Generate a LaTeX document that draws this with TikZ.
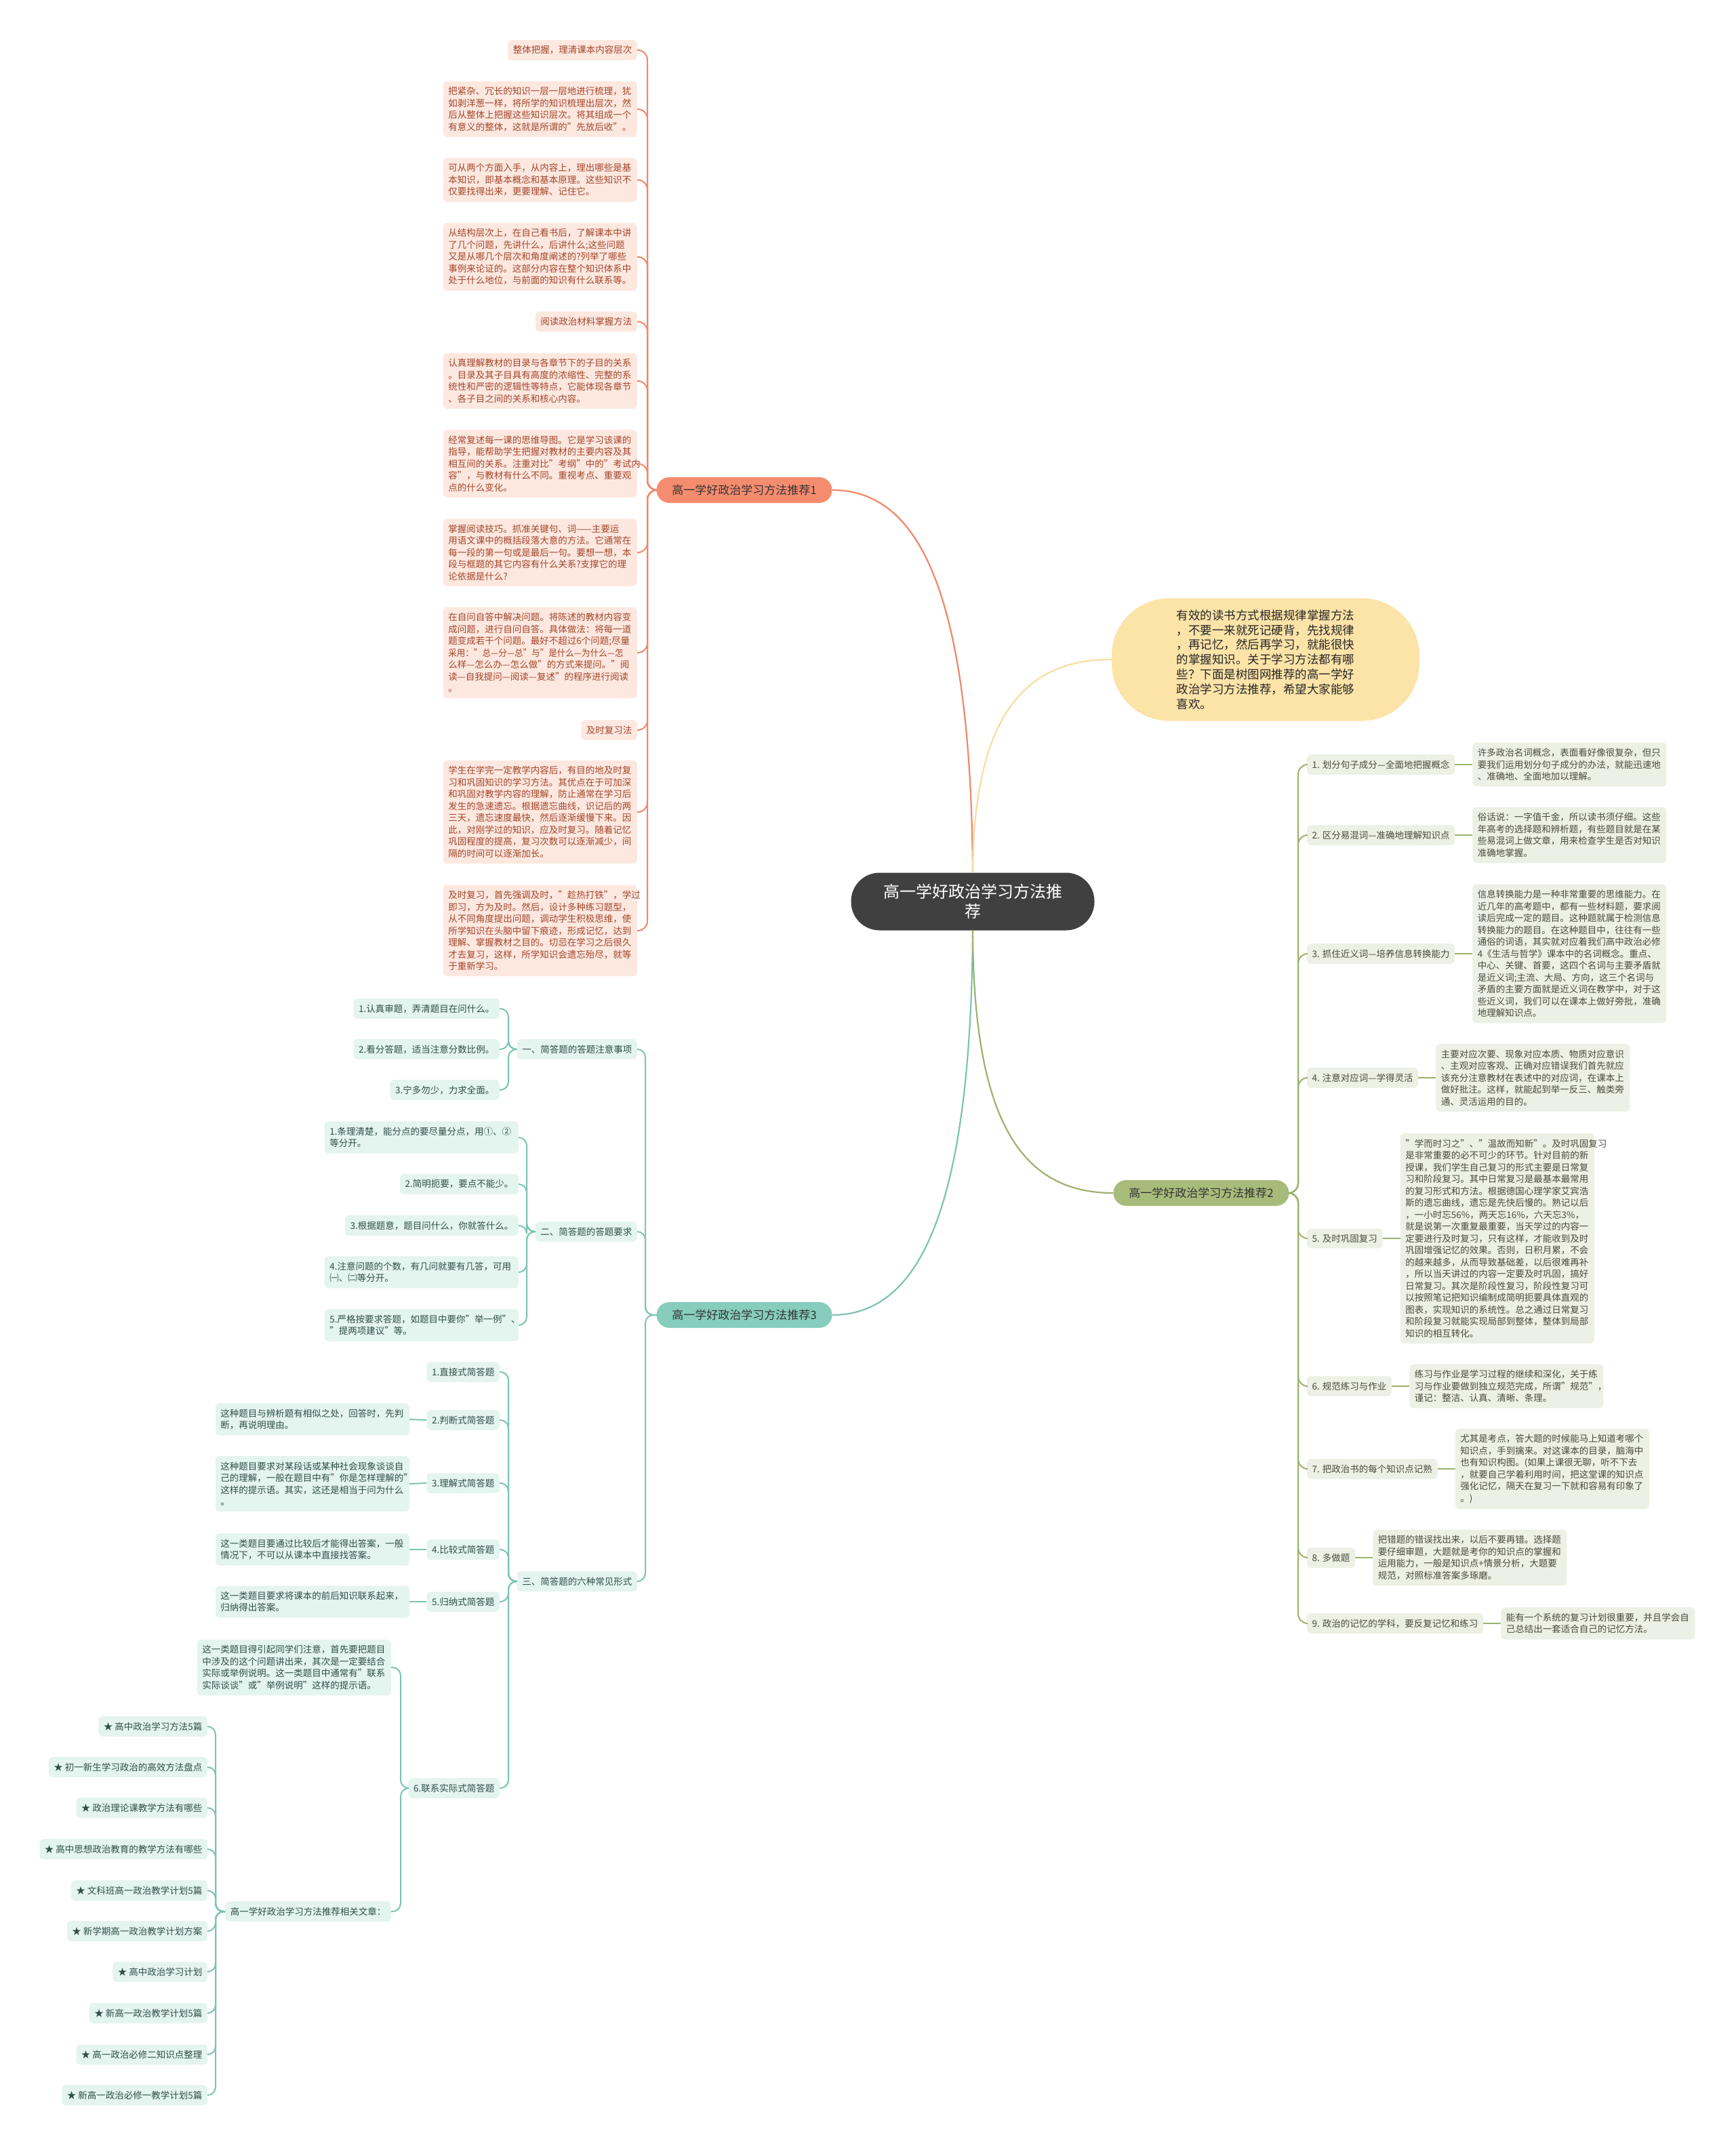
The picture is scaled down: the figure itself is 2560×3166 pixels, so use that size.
\documentclass[tikz,border=0pt]{standalone}
\usepackage{fontspec}
\setmainfont{Noto Sans CJK SC}
\usetikzlibrary{calc}
\definecolor{rootc}{HTML}{404040}
\definecolor{oA}{HTML}{F0876A}
\definecolor{oFill}{HTML}{F68C6E}
\definecolor{oBox}{HTML}{FDE8E0}
\definecolor{oText}{HTML}{A3452A}
\definecolor{tA}{HTML}{7CC3B3}
\definecolor{tFill}{HTML}{86CDBD}
\definecolor{tBox}{HTML}{E4F4EF}
\definecolor{tText}{HTML}{2F4F47}
\definecolor{gA}{HTML}{9CB26C}
\definecolor{gFill}{HTML}{A7BC7B}
\definecolor{gBox}{HTML}{EDF0E4}
\definecolor{gText}{HTML}{4A4A3C}
\definecolor{yA}{HTML}{F6DEA2}
\definecolor{yFill}{HTML}{FCE3A8}
\tikzset{
  base/.style={rounded corners=6pt, inner xsep=7.5pt, inner ysep=8.5pt,
    font=\fontsize{13.5}{17.5}\selectfont, align=left},
  obox/.style={base, fill=oBox, text=oText},
  tbox/.style={base, fill=tBox, text=tText},
  gbox/.style={base, fill=gBox, text=gText},
  para/.style={text width=271pt},
  bnode/.style={rounded corners=19pt, minimum width=259, minimum height=38,
    font=\fontsize{17}{20}\selectfont, text=black!80},
  oline/.style={draw=oA, line width=2pt, rounded corners=14pt},
  tline/.style={draw=tA, line width=2pt, rounded corners=12pt},
  gline/.style={draw=gA, line width=2pt, rounded corners=14pt},
}
\begin{document}
\begin{tikzpicture}[x=1pt,y=-1pt]
\useasboundingbox (0,0) rectangle (2560,3166);
\fill[white] (0,0) rectangle (2560,3166);

% root
\node[fill=rootc, rounded corners=42pt, minimum width=359, minimum height=85,
  align=center, text=white, font=\fontsize{24}{29}\selectfont] (root) at (1435,1330)
  {高一学好政治学习方法推\\荐};

% intro
\node[fill=yFill, rounded corners=85pt, minimum width=454, minimum height=181,
  align=left, text=black!85, font=\fontsize{17.5}{21.8}\selectfont] (intro) at (1867,973)
  {有效的读书方式根据规律掌握方法\\，不要一来就死记硬背，先找规律\\，再记忆，然后再学习，就能很快\\的掌握知识。关于学习方法都有哪\\些？下面是树图网推荐的高一学好\\政治学习方法推荐，希望大家能够\\喜欢。};

% branch nodes
\node[bnode, fill=oFill] (b1) at (1098,723) {高一学好政治学习方法推荐1};
\node[bnode, fill=gFill] (b2) at (1772,1760) {高一学好政治学习方法推荐2};
\node[bnode, fill=tFill] (b3) at (1098,1940) {高一学好政治学习方法推荐3};

\draw[draw=oA, line width=2.2pt] (root.north) .. controls (1432,860) and (1350,723) .. (b1.east);
\draw[draw=yA, line width=2.2pt] (root.north) .. controls (1436,1060) and (1510,972) .. (intro.west);
\draw[draw=tA, line width=2.2pt] (root.south) .. controls (1432,1800) and (1350,1940) .. (b3.east);
\draw[draw=gA, line width=2.2pt] (root.south) .. controls (1436,1660) and (1510,1760) .. (b2.west);

% ---------- branch 1 ----------
\coordinate (t1) at (955,723);
\node[obox, anchor=east] (c11) at (940,74) {整体把握，理清课本内容层次};
\node[obox, para, anchor=east] (c12) at (940,161) {把紧杂、冗长的知识一层一层地进行梳理，犹\\如剥洋葱一样，将所学的知识梳理出层次，然\\后从整体上把握这些知识层次。将其组成一个\\有意义的整体，这就是所谓的"先放后收"。};
\node[obox, para, anchor=east] (c13) at (940,265.5) {可从两个方面入手，从内容上，理出哪些是基\\本知识，即基本概念和基本原理。这些知识不\\仅要找得出来，更要理解、记住它。};
\node[obox, para, anchor=east] (c14) at (940,379) {从结构层次上，在自己看书后，了解课本中讲\\了几个问题，先讲什么，后讲什么;这些问题\\又是从哪几个层次和角度阐述的?列举了哪些\\事例来论证的。这部分内容在整个知识体系中\\处于什么地位，与前面的知识有什么联系等。};
\node[obox, anchor=east] (c15) at (940,474.5) {阅读政治材料掌握方法};
\node[obox, para, anchor=east] (c16) at (940,562) {认真理解教材的目录与各章节下的子目的关系\\。目录及其子目具有高度的浓缩性、完整的系\\统性和严密的逻辑性等特点，它能体现各章节\\、各子目之间的关系和核心内容。};
\node[obox, para, anchor=east] (c17) at (940,684) {经常复述每一课的思维导图。它是学习该课的\\指导，能帮助学生把握对教材的主要内容及其\\相互间的关系。注重对比"考纲"中的"考试内\\容"，与教材有什么不同。重视考点、重要观\\点的什么变化。};
\node[obox, para, anchor=east] (c18) at (940,815) {掌握阅读技巧。抓准关键句、词——主要运\\用语文课中的概括段落大意的方法。它通常在\\每一段的第一句或是最后一句。要想一想，本\\段与框题的其它内容有什么关系?支撑它的理\\论依据是什么?};
\node[obox, para, anchor=east] (c19) at (940,963) {在自问自答中解决问题。将陈述的教材内容变\\成问题，进行自问自答。具体做法：将每一道\\题变成若干个问题。最好不超过6个问题;尽量\\\scalebox{0.93}[1]{采用："总—分—总"与"是什么—为什么—怎}\\么样—怎么办—怎么做"的方式来提问。"阅\\读—自我提问—阅读—复述"的程序进行阅读\\。};
\node[obox, anchor=east] (c1a) at (940,1077) {及时复习法};
\node[obox, para, anchor=east] (c1b) at (940,1198) {学生在学完一定教学内容后，有目的地及时复\\习和巩固知识的学习方法。其优点在于可加深\\和巩固对教学内容的理解，防止通常在学习后\\发生的急速遗忘。根据遗忘曲线，识记后的两\\三天，遗忘速度最快，然后逐渐缓慢下来。因\\此，对刚学过的知识，应及时复习。随着记忆\\巩固程度的提高，复习次数可以逐渐减少，间\\隔的时间可以逐渐加长。};
\node[obox, para, anchor=east] (c1c) at (940,1373) {及时复习，首先强调及时，"趁热打铁"，学过\\即习，方为及时。然后，设计多种练习题型，\\从不同角度提出问题，调动学生积极思维，使\\所学知识在头脑中留下痕迹，形成记忆，达到\\理解、掌握教材之目的。切忌在学习之后很久\\才去复习，这样，所学知识会遗忘殆尽，就等\\于重新学习。};
\foreach \c in {c11,c12,c13,c14,c15,c16,c17,c18,c19,c1a,c1b,c1c}
  \draw[oline] (b1.west) -- (t1) |- (\c.east);

% ---------- branch 2 ----------
\coordinate (t2) at (1915,1760);
\node[gbox, anchor=west] (l21) at (1928,1128) {1. 划分句子成分—全面地把握概念};
\node[gbox, anchor=west] (l22) at (1928,1232) {2. 区分易混词—准确地理解知识点};
\node[gbox, anchor=west] (l23) at (1928,1407) {3. 抓住近义词—培养信息转换能力};
\node[gbox, anchor=west] (l24) at (1928,1590) {4. 注意对应词—学得灵活};
\node[gbox, anchor=west] (l25) at (1928,1827) {5. 及时巩固复习};
\node[gbox, anchor=west] (l26) at (1928,2045) {6. 规范练习与作业};
\node[gbox, anchor=west] (l27) at (1928,2167) {7. 把政治书的每个知识点记熟};
\node[gbox, anchor=west] (l28) at (1928,2298) {8. 多做题};
\node[gbox, anchor=west] (l29) at (1928,2395) {9. 政治的记忆的学科，要反复记忆和练习};

\node[gbox, para, anchor=west] (d21) at ($(l21.east)+(26,0)$) {许多政治名词概念，表面看好像很复杂，但只\\要我们运用划分句子成分的办法，就能迅速地\\、准确地、全面地加以理解。};
\node[gbox, para, anchor=west] (d22) at ($(l22.east)+(26,0)$) {俗话说：一字值千金，所以读书须仔细。这些\\年高考的选择题和辨析题，有些题目就是在某\\些易混词上做文章，用来检查学生是否对知识\\准确地掌握。};
\node[gbox, para, anchor=west] (d23) at ($(l23.east)+(26,0)$) {信息转换能力是一种非常重要的思维能力。在\\近几年的高考题中，都有一些材料题，要求阅\\读后完成一定的题目。这种题就属于检测信息\\转换能力的题目。在这种题目中，往往有一些\\通俗的词语，其实就对应着我们高中政治必修\\4《生活与哲学》课本中的名词概念。重点、\\中心、关键、首要，这四个名词与主要矛盾就\\是近义词;主流、大局、方向，这三个名词与\\矛盾的主要方面就是近义词在教学中，对于这\\些近义词，我们可以在课本上做好旁批，准确\\地理解知识点。};
\node[gbox, para, anchor=west] (d24) at ($(l24.east)+(26,0)$) {主要对应次要、现象对应本质、物质对应意识\\、主观对应客观、正确对应错误我们首先就应\\该充分注意教材在表述中的对应词，在课本上\\做好批注。这样，就能起到举一反三、触类旁\\通、灵活运用的目的。};
\node[gbox, para, anchor=west] (d25) at ($(l25.east)+(26,0)$) {"学而时习之"、"温故而知新"。及时巩固复习\\是非常重要的必不可少的环节。针对目前的新\\授课，我们学生自己复习的形式主要是日常复\\习和阶段复习。其中日常复习是最基本最常用\\的复习形式和方法。根据德国心理学家艾宾浩\\斯的遗忘曲线，遗忘是先快后慢的。熟记以后\\，一小时忘56\%，两天忘16\%，六天忘3\%，\\就是说第一次重复最重要，当天学过的内容一\\定要进行及时复习，只有这样，才能收到及时\\巩固增强记忆的效果。否则，日积月累，不会\\的越来越多，从而导致基础差，以后很难再补\\，所以当天讲过的内容一定要及时巩固，搞好\\日常复习。其次是阶段性复习，阶段性复习可\\以按照笔记把知识编制成简明扼要具体直观的\\图表，实现知识的系统性。总之通过日常复习\\和阶段复习就能实现局部到整体，整体到局部\\知识的相互转化。};
\node[gbox, para, anchor=west] (d26) at ($(l26.east)+(26,0)$) {练习与作业是学习过程的继续和深化，关于练\\习与作业要做到独立规范完成，所谓"规范"，\\谨记：整洁、认真、清晰、条理。};
\node[gbox, para, anchor=west] (d27) at ($(l27.east)+(26,0)$) {尤其是考点，答大题的时候能马上知道考哪个\\知识点，手到擒来。对这课本的目录，脑海中\\也有知识构图。(如果上课很无聊，听不下去\\，就要自己学着利用时间，把这堂课的知识点\\强化记忆，隔天在复习一下就和容易有印象了\\。)};
\node[gbox, para, anchor=west] (d28) at ($(l28.east)+(26,0)$) {把错题的错误找出来，以后不要再错。选择题\\要仔细审题，大题就是考你的知识点的掌握和\\运用能力，一般是知识点+情景分析，大题要\\规范，对照标准答案多琢磨。};
\node[gbox, para, anchor=west] (d29) at ($(l29.east)+(26,0)$) {能有一个系统的复习计划很重要，并且学会自\\己总结出一套适合自己的记忆方法。};
\foreach \i in {1,...,9} {
  \draw[gline] (b2.east) -- (t2) |- (l2\i.west);
  \draw[draw=gA, line width=2pt] (l2\i.east) -- (d2\i.west);
}

% ---------- branch 3 ----------
\coordinate (t3) at (952,1940);
\node[tbox, anchor=east] (n31) at (940,1548) {一、简答题的答题注意事项};
\node[tbox, anchor=east] (n32) at (940,1817) {二、简答题的答题要求};
\node[tbox, anchor=east] (n33) at (940,2333) {三、简答题的六种常见形式};
\foreach \n in {n31,n32,n33} \draw[tline] (b3.west) -- (t3) |- (\n.east);

\coordinate (t31) at (750,1548);
\node[tbox, anchor=east] (a1) at (737,1488) {1.认真审题，弄清题目在问什么。};
\node[tbox, anchor=east] (a2) at (737,1548) {2.看分答题，适当注意分数比例。};
\node[tbox, anchor=east] (a3) at (737,1608) {3.宁多勿少，力求全面。};
\foreach \c in {a1,a2,a3} \draw[tline] (n31.west) -- (t31) |- (\c.east);

\coordinate (t32) at (777,1817);
\node[tbox, para, anchor=east] (r1) at (765,1678) {1.条理清楚，能分点的要尽量分点，用①、②\\等分开。};
\node[tbox, anchor=east] (r2) at (765,1747) {2.简明扼要，要点不能少。};
\node[tbox, anchor=east] (r3) at (765,1808) {3.根据题意，题目问什么，你就答什么。};
\node[tbox, para, anchor=east] (r4) at (765,1877) {4.注意问题的个数，有几问就要有几答，可用\\㈠、㈡等分开。};
\node[tbox, para, anchor=east] (r5) at (765,1955) {5.严格按要求答题，如题目中要你"举一例"、\\"提两项建议"等。};
\foreach \c in {r1,r2,r3,r4,r5} \draw[tline] (n32.west) -- (t32) |- (\c.east);

\coordinate (t33) at (750,2333);
\node[tbox, anchor=east] (f1) at (737,2024) {1.直接式简答题};
\node[tbox, anchor=east] (f2) at (737,2095) {2.判断式简答题};
\node[tbox, anchor=east] (f3) at (737,2188) {3.理解式简答题};
\node[tbox, anchor=east] (f4) at (737,2286) {4.比较式简答题};
\node[tbox, anchor=east] (f5) at (737,2363) {5.归纳式简答题};
\node[tbox, anchor=east] (f6) at (737,2638) {6.联系实际式简答题};
\foreach \c in {f1,f2,f3,f4,f5,f6} \draw[tline] (n33.west) -- (t33) |- (\c.east);

\node[tbox, para, anchor=east] (e2) at (604,2094) {这种题目与辨析题有相似之处，回答时，先判\\断，再说明理由。};
\node[tbox, para, anchor=east] (e3) at (604,2189) {这种题目要求对某段话或某种社会现象谈谈自\\己的理解，一般在题目中有"你是怎样理解的"\\这样的提示语。其实，这还是相当于问为什么\\。};
\node[tbox, para, anchor=east] (e4) at (604,2286) {这一类题目要通过比较后才能得出答案，一般\\情况下，不可以从课本中直接找答案。};
\node[tbox, para, anchor=east] (e5) at (604,2363) {这一类题目要求将课本的前后知识联系起来，\\归纳得出答案。};
\foreach \i in {2,3,4,5} \draw[draw=tA, line width=2pt] (f\i.west) -- (e\i.east);

\coordinate (t36) at (591,2638);
\node[tbox, para, anchor=east] (e6) at (577,2460) {这一类题目得引起同学们注意，首先要把题目\\中涉及的这个问题讲出来，其次是一定要结合\\实际或举例说明。这一类题目中通常有"联系\\实际谈谈"或"举例说明"这样的提示语。};
\node[tbox, anchor=east] (rel) at (577,2820) {高一学好政治学习方法推荐相关文章：};
\foreach \c in {e6,rel} \draw[tline] (f6.west) -- (t36) |- (\c.east);

\coordinate (t37) at (318,2820);
\node[tbox, anchor=east] (s1) at (306,2547) {★ 高中政治学习方法5篇};
\node[tbox, anchor=east] (s2) at (306,2607) {★ 初一新生学习政治的高效方法盘点};
\node[tbox, anchor=east] (s3) at (306,2667) {★ 政治理论课教学方法有哪些};
\node[tbox, anchor=east] (s4) at (306,2728) {★ 高中思想政治教育的教学方法有哪些};
\node[tbox, anchor=east] (s5) at (306,2789) {★ 文科班高一政治教学计划5篇};
\node[tbox, anchor=east] (s6) at (306,2849) {★ 新学期高一政治教学计划方案};
\node[tbox, anchor=east] (s7) at (306,2909) {★ 高中政治学习计划};
\node[tbox, anchor=east] (s8) at (306,2970) {★ 新高一政治教学计划5篇};
\node[tbox, anchor=east] (s9) at (306,3031) {★ 高一政治必修二知识点整理};
\node[tbox, anchor=east] (s10) at (306,3091) {★ 新高一政治必修一教学计划5篇};
\foreach \c in {s1,s2,s3,s4,s5,s6,s7,s8,s9,s10} \draw[tline] (rel.west) -- (t37) |- (\c.east);
\end{tikzpicture}
\end{document}
